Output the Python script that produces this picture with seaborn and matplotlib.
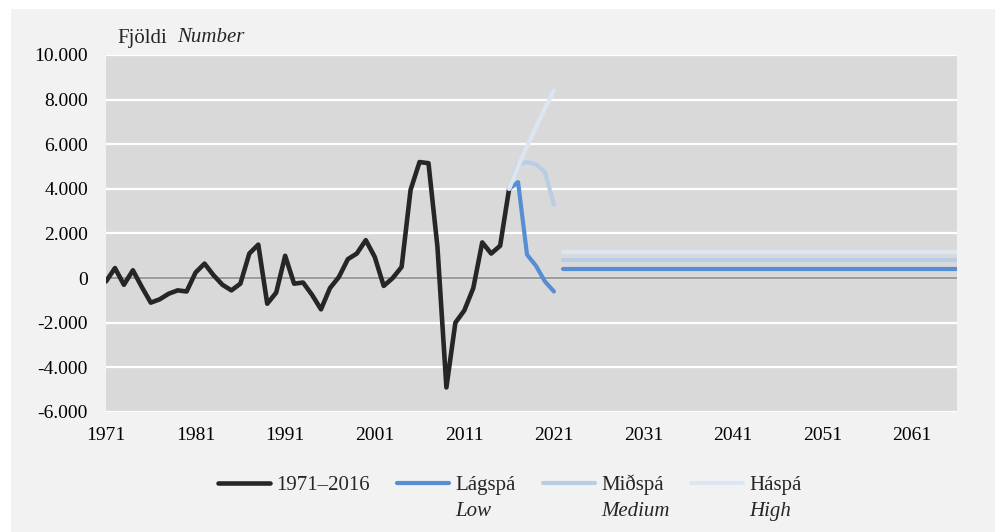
import numpy as np
import pandas as pd
import matplotlib
matplotlib.use("Agg")
from matplotlib import pyplot as plt
from matplotlib.patches import Rectangle
from matplotlib.ticker import FuncFormatter
import seaborn as sns

# historical net migration, 1971-2016
years_hist = list(range(1971, 2017))
hist = [-150, 450, -300, 350, -400, -1100, -950, -700, -550, -600,
        250, 650, 130, -300, -550, -250, 1100, 1500, -1150, -650,
        1000, -250, -200, -750, -1400, -450, 50, 850, 1100, 1700,
        950, -350, 0, 500, 3950, 5200, 5150, 1400, -4900, -2000,
        -1450, -450, 1600, 1100, 1450, 4000]

# forecasts 2016-2021
years_fc = [2016, 2017, 2018, 2019, 2020, 2021]
low_fc = [4000, 4300, 1050, 550, -150, -600]
mid_fc = [4000, 5100, 5200, 5100, 4750, 3300]
high_fc = [4000, 5000, 5900, 6750, 7600, 8400]

# long-run forecast level 2022-2066
years_long = [2022, 2066]
low_long = [400, 400]
mid_long = [800, 800]
high_long = [1180, 1180]

series_names = ["1971–2016", "Lágspá", "Miðspá", "Háspá"]
series_english = ["", "Low", "Medium", "High"]
colors = ["#262626", "#558ed5", "#b9cde5", "#dce6f2"]

sns.set_style("white")
plt.rcParams["font.family"] = ["Liberation Serif", "DejaVu Serif"]

fig = plt.figure(figsize=(10, 5.32), dpi=100, facecolor="white")
fig.patches.append(Rectangle((11 / 1000, 0), 984 / 1000, 523 / 532,
                             transform=fig.transFigure, facecolor="#f2f2f2",
                             edgecolor="none", zorder=-10))
ax = fig.add_axes([0.106, 0.2256, 0.851, 0.6711])
ax.set_facecolor("#d9d9d9")

ax.set_ylim(-6000, 10000)
ax.set_xlim(1971, 2066)
ax.set_yticks(np.arange(-6000, 10001, 2000))
ax.set_xticks(np.arange(1971, 2062, 10))
ax.yaxis.set_major_formatter(FuncFormatter(lambda v, p: f"{v:,.0f}".replace(",", ".")))
ax.grid(axis="y", color="white", linewidth=1.6)
ax.grid(axis="x", visible=False)
ax.set_axisbelow(True)
for s in ax.spines.values():
    s.set_visible(False)
ax.tick_params(axis="both", length=0, labelsize=14, colors="black")
ax.tick_params(axis="y", pad=13)
ax.tick_params(axis="x", pad=11)
ax.axhline(0, color="#7f7f7f", linewidth=1.1, zorder=1.5)

df_hist = pd.DataFrame({"year": years_hist, "value": hist})
sns.lineplot(data=df_hist, x="year", y="value", color=colors[0], linewidth=3.3,
             ax=ax, label=series_names[0], solid_joinstyle="round", solid_capstyle="round")

fc = [(low_fc, low_long), (mid_fc, mid_long), (high_fc, high_long)]
for i, (short, long_) in enumerate(fc, start=1):
    sns.lineplot(x=years_fc, y=short, color=colors[i], linewidth=3, ax=ax,
                 label=series_names[i], solid_joinstyle="round", solid_capstyle="round")
    sns.lineplot(x=years_long, y=long_, color=colors[i], linewidth=3, ax=ax,
                 solid_capstyle="round")

ax.set_xlabel("")
ax.set_ylabel("")

handles, labels = ax.get_legend_handles_labels()
leg = ax.legend(handles[:4], labels[:4], ncol=4, loc="center",
                bbox_to_anchor=(0.51, 0.088), bbox_transform=fig.transFigure,
                frameon=False, fontsize=15, handlelength=2.5, handletextpad=0.3,
                columnspacing=1.3, borderaxespad=0)

fig.text(0.117, 1 - 38 / 532, "Fjöldi", fontsize=15, va="center", ha="left")
fig.text(0.177, 1 - 38 / 532, "Number", fontsize=15, va="center", ha="left", style="italic")

fig.canvas.draw()
inv = fig.transFigure.inverted()
for txt, eng in zip(leg.get_texts(), series_english):
    if not eng:
        continue
    bb = txt.get_window_extent()
    x0, y0 = inv.transform((bb.x0, bb.y0))
    fig.text(x0, y0 - 0.012, eng, fontsize=15, style="italic", ha="left", va="top")

fig.savefig("out.png", dpi=100, facecolor=fig.get_facecolor())
